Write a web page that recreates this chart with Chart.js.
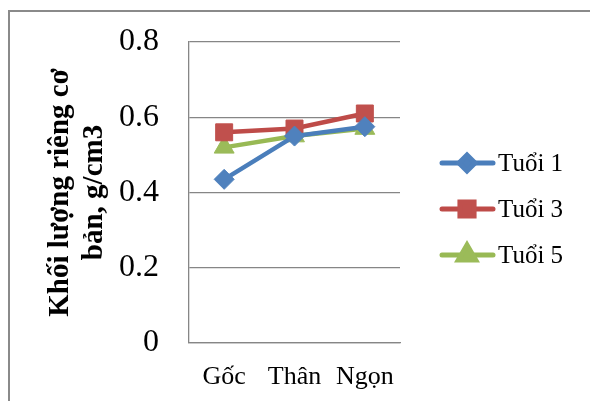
<!DOCTYPE html>
<html>
<head>
<meta charset="utf-8">
<script src="https://cdn.jsdelivr.net/npm/chart.js@4"></script>
<style>
  html, body { margin: 0; padding: 0; background: #fff; }
  #wrap { position: relative; width: 590px; height: 401px; }
</style>
</head>
<body>
<div id="wrap"><canvas id="chart" width="590" height="401"></canvas></div>
<script>
// data
const categories = ["Gốc", "Thân", "Ngọn"];
const tuoi1 = [0.435, 0.55, 0.575];
const tuoi3 = [0.56, 0.57, 0.61];
const tuoi5 = [0.52, 0.55, 0.57];
const seriesNames = ["Tuổi 1", "Tuổi 3", "Tuổi 5"];
const yTitle = ["Khối lượng riêng cơ", "bản, g/cm3"];

const serif = "'Liberation Serif', 'Times New Roman', serif";
const gridColor = "#868686";
const legendRadius = [8, 10, 10];

// frame round the whole chart + legend drawn by hand (line with marker)
const framePlugin = {
    id: "frame",
    beforeDraw(chart) {
        const ctx = chart.ctx;
        ctx.save();
        ctx.strokeStyle = "#8a8a8a";
        ctx.lineWidth = 2;
        ctx.beginPath();
        ctx.moveTo(9, 401);
        ctx.lineTo(9, 11);
        ctx.lineTo(590, 11);
        ctx.stroke();
        ctx.restore();
    },
    afterDraw(chart) {
        const ctx = chart.ctx;
        ctx.save();
        chart.data.datasets.forEach(function(ds, i){
            let y = 163 + i * 46;
            ctx.strokeStyle = ds.borderColor;
            ctx.lineWidth = 5;
            ctx.lineCap = "round";
            ctx.beginPath();
            ctx.moveTo(442, y);
            ctx.lineTo(493, y);
            ctx.stroke();
            ctx.fillStyle = ds.pointBackgroundColor;
            ctx.strokeStyle = ds.pointBackgroundColor;
            Chart.helpers.drawPoint(ctx, {
                pointStyle: ds.pointStyle,
                radius: legendRadius[i],
                rotation: 0,
                borderWidth: 1
            }, 467, y);
            ctx.fillStyle = "#000";
            ctx.font = "25px " + serif;
            ctx.textBaseline = "middle";
            ctx.textAlign = "left";
            ctx.fillText(ds.label, 498, y + 1);
        });
        ctx.restore();
    }
};

new Chart(document.getElementById("chart"), {
    type: "line",
    data: {
        labels: categories,
        datasets: [{
            label: seriesNames[0],
            data: tuoi1,
            borderColor: "#4A7EBB",
            pointBackgroundColor: "#4F81BD",
            pointBorderColor: "#4F81BD",
            pointStyle: "rectRot",
            pointRadius: 10
        }, {
            label: seriesNames[1],
            data: tuoi3,
            borderColor: "#BE4B48",
            pointBackgroundColor: "#C0504D",
            pointBorderColor: "#C0504D",
            pointStyle: "rect",
            pointRadius: 12
        }, {
            label: seriesNames[2],
            data: tuoi5,
            borderColor: "#98B954",
            pointBackgroundColor: "#9BBB59",
            pointBorderColor: "#9BBB59",
            pointStyle: "triangle",
            pointRadius: 11.5
        }]
    },
    options: {
        responsive: false,
        animation: false,
        devicePixelRatio: 1,
        elements: {
            line: { borderWidth: 4.5, tension: 0 },
            point: { borderWidth: 1, hoverRadius: 10 }
        },
        layout: {
            padding: { left: 44, top: 42, right: 190, bottom: 0 }
        },
        plugins: {
            legend: { display: false },
            tooltip: { enabled: false }
        },
        scales: {
            x: {
                offset: true,
                grid: { display: false, drawTicks: false },
                border: { color: gridColor, width: 1.3 },
                ticks: {
                    color: "#000",
                    font: { family: serif, size: 26 },
                    padding: 19,
                    maxRotation: 0
                },
                afterFit: function(s){ s.height = 58; }
            },
            y: {
                min: 0,
                max: 0.8,
                ticks: {
                    stepSize: 0.2,
                    color: "#000",
                    font: { family: serif, size: 32 },
                    padding: 30
                },
                grid: { color: gridColor, lineWidth: 1.3, drawTicks: false },
                border: { color: gridColor, width: 1.3 },
                title: {
                    display: true,
                    text: yTitle,
                    color: "#000",
                    font: { family: serif, size: 29, weight: "bold", lineHeight: 1.15 },
                    padding: 0
                },
                afterFit: function(s){
                    s.width = 145;
                    s.paddingTop = 0;
                    s.paddingBottom = 0;
                }
            }
        }
    },
    plugins: [framePlugin]
});
</script>
</body>
</html>
